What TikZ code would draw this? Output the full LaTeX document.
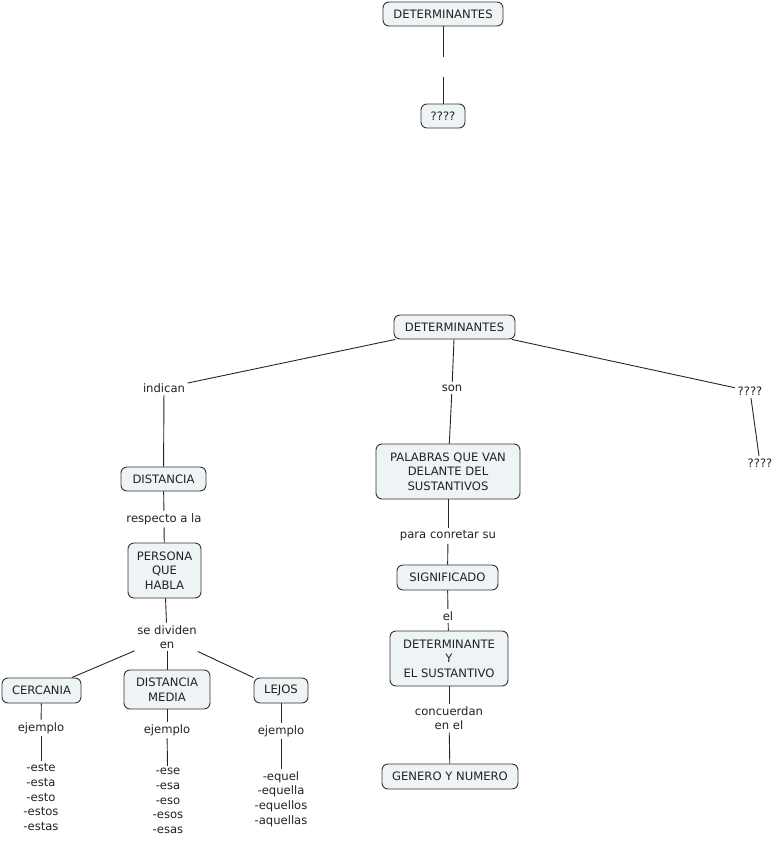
\documentclass[tikz,border=0pt]{standalone}
\usepackage{fontspec}
\setmainfont{DejaVu Sans}
\definecolor{boxfill}{HTML}{EEF3F5}
\definecolor{ink}{HTML}{222222}
\definecolor{edge}{HTML}{333333}
\begin{document}
\begin{tikzpicture}[x=1pt,y=-1pt,
  every node/.style={font=\fontsize{11.6}{14.6}\selectfont, text=ink, align=center},
  cbox/.style={draw=edge, fill=boxfill, rounded corners=6pt, line width=0.9pt, inner sep=0pt},
  lbl/.style={inner sep=2.5pt, fill=white},
  conn/.style={draw=black!85, line width=0.9pt}]
\useasboundingbox[fill=white] (0,0) rectangle (783,844);

% top pair
\node[cbox, minimum width=120pt, minimum height=24pt] (topdet) at (443,14) {DETERMINANTES};
\node[cbox, minimum width=44pt, minimum height=24pt] (topq) at (443,116) {????};
\coordinate (g1) at (443,57);
\coordinate (g2) at (443,77);
\draw[conn] (topdet) -- (g1);
\draw[conn] (g2) -- (topq);

% main map
\node[cbox, minimum width=121pt, minimum height=24pt] (det) at (454.5,327) {DETERMINANTES};

\node[lbl] (indican) at (164,388) {indican};
\node[lbl] (son) at (452,388) {son};
\node[lbl] (q1) at (750,391) {????};
\node[lbl] (q2) at (760,463) {????};

\node[cbox, minimum width=85pt, minimum height=24pt] (dist) at (163.5,479) {DISTANCIA};
\node[lbl] (resp) at (164,519) {respecto a la};
\node[cbox, minimum width=73pt, minimum height=55pt] (pers) at (164.5,570.5) {PERSONA\\QUE\\HABLA};
\node[lbl] (sediv) at (167,637) {se dividen\\en};

\node[cbox, minimum width=79pt, minimum height=25pt] (cerc) at (41.5,690.5) {CERCANIA};
\node[cbox, minimum width=86pt, minimum height=39pt] (dmed) at (167,689.5) {DISTANCIA\\MEDIA};
\node[cbox, minimum width=54pt, minimum height=25pt] (lejos) at (281,690.5) {LEJOS};

\node[lbl] (ej1) at (41,728) {ejemplo};
\node[lbl] (ej2) at (167,730) {ejemplo};
\node[lbl] (ej3) at (281,731) {ejemplo};

\node[lbl] (l1) at (41,797) {-este\\-esta\\-esto\\-estos\\-estas};
\node[lbl] (l2) at (168,801) {-ese\\-esa\\-eso\\-esos\\-esas};
\node[lbl] (l3) at (281,799) {-equel\\-equella\\-equellos\\-aquellas};

\node[cbox, minimum width=144pt, minimum height=55pt] (pal) at (448,471.5) {PALABRAS QUE VAN\\DELANTE DEL\\SUSTANTIVOS};
\node[lbl] (para) at (448,536) {para conretar su};
\node[cbox, minimum width=101pt, minimum height=25pt] (sig) at (447.5,577.5) {SIGNIFICADO};
\node[lbl] (el) at (448,616) {el};
\node[cbox, minimum width=118pt, minimum height=55pt] (dys) at (449,658.5) {DETERMINANTE\\Y\\EL SUSTANTIVO};
\node[lbl] (conc) at (449,718) {concuerdan\\en el};
\node[cbox, minimum width=136pt, minimum height=25pt] (gen) at (450,776.5) {GENERO Y NUMERO};

% connectors
\draw[conn] (det) -- (indican);
\draw[conn] (indican) -- (dist);
\draw[conn] (dist) -- (resp);
\draw[conn] (resp) -- (pers);
\draw[conn] (pers) -- (sediv);
\draw[conn] (sediv) -- (cerc);
\draw[conn] (sediv) -- (dmed);
\draw[conn] (sediv) -- (lejos);
\draw[conn] (cerc) -- (ej1);
\draw[conn] (ej1) -- (l1);
\draw[conn] (dmed) -- (ej2);
\draw[conn] (ej2) -- (l2);
\draw[conn] (lejos) -- (ej3);
\draw[conn] (ej3) -- (l3);

\draw[conn] (det) -- (son);
\draw[conn] (son) -- (pal);
\draw[conn] (pal) -- (para);
\draw[conn] (para) -- (sig);
\draw[conn] (sig) -- (el);
\draw[conn] (el) -- (dys);
\draw[conn] (dys) -- (conc);
\draw[conn] (conc) -- (gen);

\draw[conn] (det) -- (q1);
\draw[conn] (q1) -- (q2);
\end{tikzpicture}
\end{document}
